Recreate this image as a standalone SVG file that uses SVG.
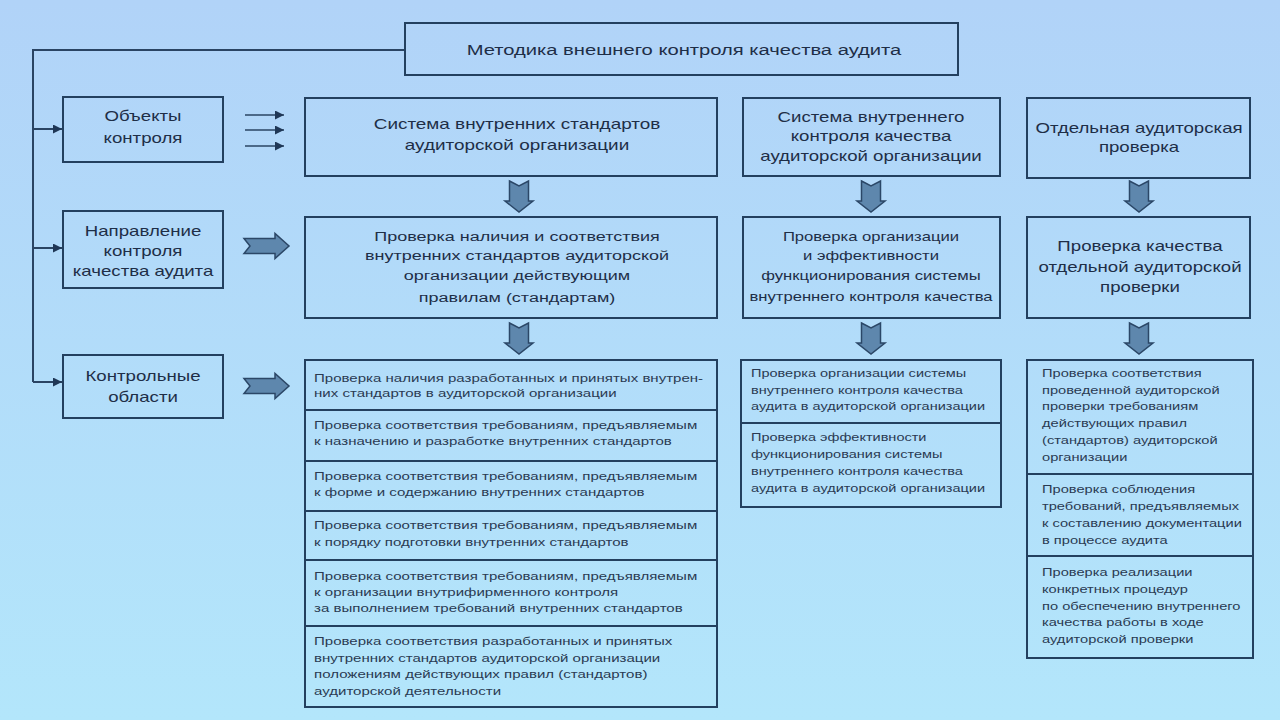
<svg xmlns="http://www.w3.org/2000/svg" xmlns:xlink="http://www.w3.org/1999/xlink" width="1280" height="720" viewBox="0 0 1280 720">
<defs>
<linearGradient id="bg" x1="0" y1="0" x2="0" y2="1">
<stop offset="0" stop-color="#b1d3f8"/>
<stop offset="1" stop-color="#b3e6fb"/>
</linearGradient>
<marker id="ah" viewBox="0 0 10 10" refX="10" refY="5" markerWidth="9" markerHeight="9" markerUnits="userSpaceOnUse" orient="auto">
<path d="M0,0 L10,5 L0,10 Z" fill="#1f3756"/>
</marker>
<path id="rarrow" d="M0,-7.5 L31,-7.5 L31,-12.5 L45,0 L31,12.5 L31,7.5 L0,7.5 L6,0 Z"/>
<path id="darrow" d="M-9.5,0 L0,5 L9.5,0 L9.5,20 L14,20 L0,31 L-14,20 L-9.5,20 Z"/>
</defs>
<style>
.box{fill:none;stroke:#23405f;stroke-width:2}
.div{stroke:#23405f;stroke-width:1.8}
.conn{fill:none;stroke:#2a4463;stroke-width:2}
.thin{fill:none;stroke:#2a4463;stroke-width:1.5}
.blk{fill:#5e87ad;stroke:#2b4767;stroke-width:1.5}
text{font-family:"Liberation Sans",Arial,sans-serif;fill:#1e2e47}
.t{font-size:14px;text-anchor:middle}
.tm{font-size:13.5px;text-anchor:middle}
.tb{font-size:12.5px;text-anchor:middle}
.tt{font-size:15px;text-anchor:middle}
.s{font-size:11.3px;fill:#2a3a52}
.sb{font-size:10.9px;fill:#2a3a52}
.sc{font-size:11px;fill:#2a3a52}
</style>
<rect width="1280" height="720" fill="url(#bg)"/>

<g id="connectors">
<path class="conn" d="M405,50 H33 V382"/>
<line class="conn" x1="33" y1="129" x2="62" y2="129" marker-end="url(#ah)"/>
<line class="conn" x1="33" y1="248" x2="62" y2="248" marker-end="url(#ah)"/>
<line class="conn" x1="33" y1="382" x2="62" y2="382" marker-end="url(#ah)"/>
<line class="thin" x1="245" y1="115" x2="284" y2="115" marker-end="url(#ah)"/>
<line class="thin" x1="245" y1="130" x2="284" y2="130" marker-end="url(#ah)"/>
<line class="thin" x1="245" y1="146" x2="284" y2="146" marker-end="url(#ah)"/>
<use href="#rarrow" class="blk" x="244" y="246"/>
<use href="#rarrow" class="blk" x="244" y="386"/>
<use href="#darrow" class="blk" x="519" y="181"/>
<use href="#darrow" class="blk" x="871" y="181"/>
<use href="#darrow" class="blk" x="1139" y="181"/>
<use href="#darrow" class="blk" x="519" y="323"/>
<use href="#darrow" class="blk" x="871" y="323"/>
<use href="#darrow" class="blk" x="1139" y="323"/>
</g>

<g id="title">
<rect class="box" x="405" y="23" width="553" height="52"/>
<g transform="translate(684 0) scale(1.345 1)"><text class="tt" x="0" y="55">Методика внешнего контроля качества аудита</text></g>
</g>

<g id="objects">
<rect class="box" x="63" y="97" width="160" height="65"/>
<g transform="translate(143 0) scale(1.333 1)">
<text class="t" x="0" y="121">Объекты</text>
<text class="t" x="0" y="143">контроля</text>
</g>
</g>

<g id="direction">
<rect class="box" x="63" y="211" width="160" height="77"/>
<g transform="translate(143 0) scale(1.333 1)">
<text class="t" x="0" y="236">Направление</text>
<text class="t" x="0" y="256">контроля</text>
<text class="t" x="0" y="276">качества аудита</text>
</g>
</g>

<g id="areas">
<rect class="box" x="63" y="355" width="160" height="63"/>
<g transform="translate(143 0) scale(1.333 1)">
<text class="t" x="0" y="381">Контрольные</text>
<text class="t" x="0" y="402">области</text>
</g>
</g>

<g id="a1">
<rect class="box" x="305" y="98" width="412" height="78"/>
<g transform="translate(517 0) scale(1.35 1)">
<text class="t" x="0" y="129">Система внутренних стандартов</text>
<text class="t" x="0" y="150">аудиторской организации</text>
</g>
</g>

<g id="b1">
<rect class="box" x="743" y="98" width="257" height="78"/>
<g transform="translate(871 0) scale(1.333 1)">
<text class="t" x="0" y="122">Система внутреннего</text>
<text class="t" x="0" y="141">контроля качества</text>
<text class="t" x="0" y="161">аудиторской организации</text>
</g>
</g>

<g id="c1">
<rect class="box" x="1027" y="98" width="223" height="80"/>
<g transform="translate(1139 0) scale(1.333 1)">
<text class="t" x="0" y="133">Отдельная аудиторская</text>
<text class="t" x="0" y="152">проверка</text>
</g>
</g>

<g id="a2">
<rect class="box" x="305" y="217" width="412" height="101"/>
<g transform="translate(517 0) scale(1.333 1)">
<text class="tm" x="0" y="241">Проверка наличия и соответствия</text>
<text class="tm" x="0" y="260">внутренних стандартов аудиторской</text>
<text class="tm" x="0" y="280">организации действующим</text>
<text class="tm" x="0" y="302">правилам (стандартам)</text>
</g>
</g>

<g id="b2">
<rect class="box" x="743" y="217" width="257" height="101"/>
<g transform="translate(871 0) scale(1.333 1)">
<text class="tb" x="0" y="241">Проверка организации</text>
<text class="tb" x="0" y="260">и эффективности</text>
<text class="tb" x="0" y="280">функционирования системы</text>
<text class="tb" x="0" y="301">внутреннего контроля качества</text>
</g>
</g>

<g id="c2">
<rect class="box" x="1027" y="217" width="223" height="101"/>
<g transform="translate(1140 0) scale(1.333 1)">
<text class="t" x="0" y="251">Проверка качества</text>
<text class="t" x="0" y="272">отдельной аудиторской</text>
<text class="t" x="0" y="292">проверки</text>
</g>
</g>

<g id="a3">
<rect class="box" x="305" y="360" width="412" height="347"/>
<line class="div" x1="305" y1="410" x2="717" y2="410"/>
<line class="div" x1="305" y1="461" x2="717" y2="461"/>
<line class="div" x1="305" y1="511" x2="717" y2="511"/>
<line class="div" x1="305" y1="560" x2="717" y2="560"/>
<line class="div" x1="305" y1="626" x2="717" y2="626"/>
<g transform="translate(314 0) scale(1.333 1)">
<text class="s" x="0" y="382">Проверка наличия разработанных и принятых внутрен-</text>
<text class="s" x="0" y="397">них стандартов в аудиторской организации</text>
<text class="s" x="0" y="429">Проверка соответствия требованиям, предъявляемым</text>
<text class="s" x="0" y="445">к назначению и разработке внутренних стандартов</text>
<text class="s" x="0" y="480">Проверка соответствия требованиям, предъявляемым</text>
<text class="s" x="0" y="496">к форме и содержанию внутренних стандартов</text>
<text class="s" x="0" y="529">Проверка соответствия требованиям, предъявляемым</text>
<text class="s" x="0" y="546">к порядку подготовки внутренних стандартов</text>
<text class="s" x="0" y="580">Проверка соответствия требованиям, предъявляемым</text>
<text class="s" x="0" y="596">к организации внутрифирменного контроля</text>
<text class="s" x="0" y="612">за выполнением требований внутренних стандартов</text>
<text class="s" x="0" y="645">Проверка соответствия разработанных и принятых</text>
<text class="s" x="0" y="662">внутренних стандартов аудиторской организации</text>
<text class="s" x="0" y="678">положениям действующих правил (стандартов)</text>
<text class="s" x="0" y="695">аудиторской деятельности</text>
</g>
</g>

<g id="b3">
<rect class="box" x="741" y="360" width="260" height="147"/>
<line class="div" x1="741" y1="423" x2="1001" y2="423"/>
<g transform="translate(751 0) scale(1.333 1)">
<text class="sb" x="0" y="377">Проверка организации системы</text>
<text class="sb" x="0" y="394">внутреннего контроля качества</text>
<text class="sb" x="0" y="410">аудита в аудиторской организации</text>
<text class="sb" x="0" y="441">Проверка эффективности</text>
<text class="sb" x="0" y="458">функционирования системы</text>
<text class="sb" x="0" y="475">внутреннего контроля качества</text>
<text class="sb" x="0" y="492">аудита в аудиторской организации</text>
</g>
</g>

<g id="c3">
<rect class="box" x="1027" y="360" width="226" height="298"/>
<line class="div" x1="1027" y1="474" x2="1253" y2="474"/>
<line class="div" x1="1027" y1="556" x2="1253" y2="556"/>
<g transform="translate(1042 0) scale(1.333 1)">
<text class="sc" x="0" y="377">Проверка соответствия</text>
<text class="sc" x="0" y="394">проведенной аудиторской</text>
<text class="sc" x="0" y="410">проверки требованиям</text>
<text class="sc" x="0" y="427">действующих правил</text>
<text class="sc" x="0" y="444">(стандартов) аудиторской</text>
<text class="sc" x="0" y="461">организации</text>
<text class="sc" x="0" y="493">Проверка соблюдения</text>
<text class="sc" x="0" y="510">требований, предъявляемых</text>
<text class="sc" x="0" y="527">к составлению документации</text>
<text class="sc" x="0" y="544">в процессе аудита</text>
<text class="sc" x="0" y="576">Проверка реализации</text>
<text class="sc" x="0" y="593">конкретных процедур</text>
<text class="sc" x="0" y="610">по обеспечению внутреннего</text>
<text class="sc" x="0" y="626">качества работы в ходе</text>
<text class="sc" x="0" y="643">аудиторской проверки</text>
</g>
</g>
</svg>
